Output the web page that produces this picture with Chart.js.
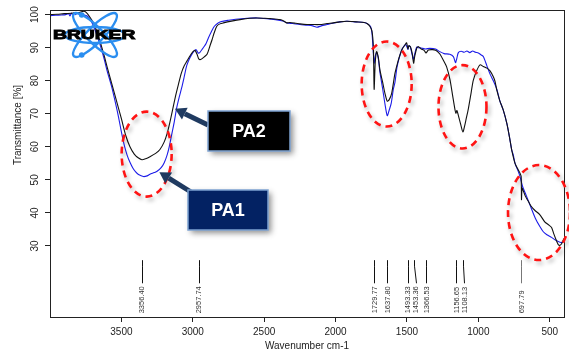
<!DOCTYPE html>
<html>
<head>
<meta charset="utf-8">
<title>FTIR PA1 / PA2</title>
<script src="https://cdn.jsdelivr.net/npm/chart.js@4.4.0/dist/chart.umd.min.js"></script>
<style>
  html, body { margin: 0; padding: 0; background: #fff; }
  canvas { display: block; }
</style>
</head>
<body>
<canvas id="ftirChart" width="569" height="354"></canvas>
<script>
// PA2 spectrum (black trace)
const pa2Wavenumber = [
  4000, 3950, 3900, 3850, 3800, 3775, 3760, 3745, 3720, 3700, 3680, 3650, 3620, 3600, 3570, 3540,
  3500, 3470, 3440, 3410, 3380, 3356, 3330, 3300, 3260, 3230, 3200, 3180, 3160, 3140, 3120, 3100,
  3080, 3060, 3040, 3020, 3000, 2985, 2970, 2958, 2945, 2920, 2900, 2880, 2865, 2850, 2832, 2810,
  2786, 2720, 2669, 2600, 2552, 2500, 2459, 2389, 2360, 2342, 2320, 2280, 2249, 2200, 2167, 2109,
  2060, 2016, 1970, 1922, 1880, 1852, 1800, 1780, 1760, 1745, 1735, 1729.77, 1722, 1712, 1700, 1689,
  1670, 1654, 1637.8, 1625, 1607, 1584, 1565, 1549, 1530, 1514, 1502, 1493.33, 1486, 1475, 1462, 1453.36,
  1445, 1430, 1419, 1400, 1380, 1366.53, 1350, 1320, 1300, 1280, 1268, 1245, 1222, 1198, 1180, 1163,
  1156.65, 1150, 1140, 1125, 1108.13, 1095, 1085, 1070, 1050, 1035, 1010, 988, 965, 940, 918, 895,
  883, 871, 850, 825, 800, 780, 766, 743, 720, 708, 700, 697.79, 694, 688, 670, 650,
  630, 605, 570, 535, 505, 487, 470, 452, 440, 428, 415, 400
];
const pa2Transmittance = [
  100.0, 100.1, 100.3, 100.4, 100.6, 100.9, 101.0, 100.6, 99.2, 97.8, 95.8, 92.0, 87.5, 84.2, 79.5, 74.8,
  68.5, 63.5, 60.0, 57.8, 56.6, 56.1, 56.4, 57.0, 58.0, 59.2, 61.5, 64.0, 67.5, 71.5, 75.5, 79.0,
  82.3, 84.5, 86.0, 87.5, 88.7, 89.2, 88.0, 86.6, 86.4, 87.2, 88.0, 90.5, 92.4, 94.5, 96.5, 97.2,
  97.5, 98.1, 98.5, 98.9, 99.0, 98.9, 98.8, 98.5, 98.0, 97.5, 97.6, 97.4, 97.2, 97.0, 97.0, 97.0,
  97.3, 97.5, 97.8, 98.0, 97.9, 97.8, 97.6, 97.3, 96.5, 95.0, 90.0, 77.4, 85.5, 88.8, 87.0, 83.2,
  79.5, 76.2, 73.8, 74.2, 76.2, 82.2, 85.5, 87.8, 89.8, 90.8, 91.5, 89.6, 90.6, 90.2, 88.0, 85.3,
  87.5, 90.0, 90.3, 89.6, 89.2, 88.4, 89.3, 89.4, 89.2, 88.6, 88.0, 86.2, 84.2, 80.2, 75.5, 71.1,
  70.1, 71.0, 69.5, 67.0, 64.5, 66.5, 68.5, 71.5, 76.5, 80.2, 83.2, 84.8, 84.3, 83.8, 83.0, 81.2,
  79.8, 77.2, 74.0, 71.1, 67.0, 62.5, 59.0, 55.0, 53.0, 52.0, 51.0, 44.0, 47.5, 47.0, 45.0, 43.5,
  42.0, 40.8, 39.5, 37.3, 36.3, 35.6, 33.5, 31.5, 30.4, 30.2, 30.8, 32.3
];

// PA1 spectrum (blue trace)
const pa1Wavenumber = [
  4000, 3960, 3920, 3890, 3870, 3860, 3850, 3840, 3830, 3820, 3810, 3790, 3760, 3740, 3720, 3700,
  3680, 3650, 3620, 3600, 3570, 3540, 3520, 3500, 3480, 3460, 3440, 3420, 3400, 3380, 3346, 3320,
  3300, 3270, 3250, 3220, 3200, 3180, 3165, 3150, 3130, 3113, 3095, 3078, 3060, 3043, 3025, 3008,
  2990, 2977, 2962, 2950, 2930, 2910, 2890, 2870, 2850, 2825, 2800, 2750, 2700, 2620, 2550, 2480,
  2420, 2370, 2340, 2300, 2250, 2200, 2160, 2130, 2100, 2060, 2020, 1970, 1920, 1860, 1800, 1775,
  1755, 1745, 1735, 1729.77, 1722, 1712, 1700, 1689, 1670, 1654, 1637.8, 1625, 1610, 1595, 1584, 1570,
  1555, 1535, 1520, 1508, 1493.33, 1486, 1476, 1464, 1456, 1447, 1432, 1420, 1400, 1370, 1340, 1300,
  1270, 1240, 1200, 1175, 1160, 1152, 1140, 1120, 1100, 1080, 1060, 1040, 1020, 1000, 980, 965,
  940, 918, 895, 871, 850, 825, 800, 780, 766, 755, 743, 720, 708, 690, 662, 630,
  600, 568, 545, 520, 487, 460, 428, 410, 400
];
const pa1Transmittance = [
  99.7, 99.8, 99.9, 100.0, 100.3, 99.6, 100.5, 99.8, 100.6, 100.0, 100.4, 100.1, 99.9, 99.6, 98.7, 97.0,
  94.8, 91.0, 86.5, 83.0, 78.5, 73.0, 69.0, 64.5, 60.5, 57.5, 55.3, 53.6, 52.4, 51.6, 51.0, 51.2,
  51.7, 52.2, 52.6, 53.8, 55.2, 57.5, 60.0, 63.2, 67.5, 71.7, 75.0, 77.8, 81.2, 84.5, 86.5, 87.9,
  89.0, 89.4, 88.4, 88.6, 89.8, 91.0, 93.0, 94.8, 96.4, 97.4, 97.9, 98.3, 98.6, 98.9, 99.0, 98.8,
  98.5, 98.1, 97.5, 97.3, 97.0, 96.8, 96.6, 96.2, 96.6, 97.0, 97.4, 97.8, 98.0, 97.8, 97.6, 97.2,
  96.4, 94.5, 88.0, 85.3, 87.5, 88.6, 86.5, 82.5, 77.5, 73.0, 69.4, 71.0, 73.2, 77.5, 79.5, 84.0,
  86.8, 89.5, 90.5, 91.0, 89.5, 90.6, 90.2, 88.0, 86.5, 87.8, 90.2, 90.0, 89.9, 89.6, 89.8, 89.6,
  88.8, 88.2, 88.0, 87.3, 85.5, 86.5, 88.5, 88.9, 88.6, 89.0, 88.5, 89.0, 88.6, 88.4, 87.8, 87.3,
  84.5, 82.0, 80.0, 77.5, 74.0, 71.0, 67.0, 62.5, 59.0, 57.5, 55.0, 52.5, 51.0, 48.0, 45.0, 41.5,
  38.3, 35.8, 34.3, 33.4, 32.6, 31.8, 31.1, 31.2, 31.8
];

// picked peak positions shown under the spectra
const peakWavenumbers = [3356.40, 2957.74, 1729.77, 1637.80, 1493.33, 1453.36, 1366.53, 1156.65, 1108.13, 697.79];

const xTickValues = [3500, 3000, 2500, 2000, 1500, 1000, 500];
const yTickValues = [30, 40, 50, 60, 70, 80, 90, 100];

const FONT = 'Arial, "Liberation Sans", sans-serif';
const toPoints = (xs, ys) => xs.map((x, i) => ({ x: x, y: ys[i] }));

// closed frame around the plot area
const framePlugin = {
  id: 'frame',
  afterDraw(chart) {
    const { ctx, chartArea: a } = chart;
    ctx.save();
    ctx.strokeStyle = '#222';
    ctx.lineWidth = 1;
    ctx.strokeRect(a.left + 0.5, a.top + 0.5, a.right - a.left, a.bottom - a.top);
    ctx.restore();
  }
};

// peak markers: short ticks with rotated wavenumber labels
const peakPlugin = {
  id: 'peaks',
  afterDatasetsDraw(chart) {
    const { ctx, scales: { x, y } } = chart;
    const lineTop = y.getPixelForValue(25.7);
    const lineBottom = y.getPixelForValue(18.7);
    const labelBase = y.getPixelForValue(9.6);
    ctx.save();
    ctx.font = '7.5px ' + FONT;
    ctx.fillStyle = '#333';
    ctx.textAlign = 'left';
    ctx.textBaseline = 'middle';
    let prevLabelX = -Infinity;
    peakWavenumbers.forEach(wn => {
      const px = x.getPixelForValue(wn);
      // nudge crowded labels apart
      const lx = Math.max(px, prevLabelX + 8);
      prevLabelX = lx;
      ctx.strokeStyle = wn < 800 ? '#777' : '#111';
      ctx.lineWidth = 1;
      ctx.beginPath();
      ctx.moveTo(Math.round(px) + 0.5, lineTop);
      ctx.lineTo(Math.round(px) + 0.5, lineTop + 6);
      ctx.lineTo(Math.round(lx) + 0.5, lineBottom);
      ctx.stroke();
      ctx.save();
      ctx.translate(lx + 0.5, labelBase);
      ctx.rotate(-Math.PI / 2);
      ctx.fillText(wn.toFixed(2), 0, 0);
      ctx.restore();
    });
    ctx.restore();
  }
};

// y axis title, rotated
const yTitlePlugin = {
  id: 'yTitle',
  afterDraw(chart) {
    const { ctx } = chart;
    ctx.save();
    ctx.translate(18, 125);
    ctx.rotate(-Math.PI / 2);
    ctx.font = '10px ' + FONT;
    ctx.fillStyle = '#222';
    ctx.textAlign = 'center';
    ctx.textBaseline = 'middle';
    ctx.fillText('Transmittance [%]', 0, 0);
    ctx.restore();
  }
};

function drawArrow(ctx, x0, y0, x1, y1) {
  const dx = x1 - x0, dy = y1 - y0;
  const len = Math.hypot(dx, dy);
  const ux = dx / len, uy = dy / len;
  const head = 11, half = 6.5;
  const bx = x1 - ux * head, by = y1 - uy * head;
  ctx.beginPath();
  ctx.moveTo(x0, y0);
  ctx.lineTo(bx, by);
  ctx.lineWidth = 5;
  ctx.stroke();
  ctx.beginPath();
  ctx.moveTo(x1, y1);
  ctx.lineTo(bx - uy * half, by + ux * half);
  ctx.lineTo(bx + uy * half, by - ux * half);
  ctx.closePath();
  ctx.fill();
}

function drawCallout(ctx, rx, ry, w, h, fill, text) {
  ctx.save();
  ctx.shadowColor = 'rgba(0,0,0,0.45)';
  ctx.shadowBlur = 6;
  ctx.shadowOffsetX = 3;
  ctx.shadowOffsetY = 3;
  ctx.fillStyle = fill;
  ctx.fillRect(rx, ry, w, h);
  ctx.restore();
  ctx.save();
  ctx.strokeStyle = '#7ea3d2';
  ctx.lineWidth = 1.5;
  ctx.strokeRect(rx, ry, w, h);
  ctx.fillStyle = '#fff';
  ctx.font = 'bold 18px ' + FONT;
  ctx.textAlign = 'center';
  ctx.textBaseline = 'middle';
  ctx.fillText(text, rx + w / 2, ry + h / 2 + 1);
  ctx.restore();
}

// highlight ellipses, PA callouts and the Bruker logo
const overlayPlugin = {
  id: 'overlay',
  afterDraw(chart) {
    const { ctx, scales: { x, y } } = chart;

    const rings = [
      { wn: 3323, t: 57.8, rx: 25, ry: 42.5 },
      { wn: 1642, t: 79.0, rx: 25, ry: 42.5 },
      { wn: 1111, t: 72.1, rx: 24, ry: 41.7 },
      { wn: 575, t: 40.1, rx: 31, ry: 47.5 }
    ];
    ctx.save();
    ctx.strokeStyle = '#ff1414';
    ctx.lineWidth = 2.6;
    ctx.setLineDash([7, 5]);
    ctx.shadowColor = 'rgba(0,0,0,0.3)';
    ctx.shadowBlur = 4;
    ctx.shadowOffsetX = 2;
    ctx.shadowOffsetY = 3;
    rings.forEach(r => {
      ctx.beginPath();
      ctx.ellipse(x.getPixelForValue(r.wn), y.getPixelForValue(r.t), r.rx, r.ry, 0, 0, Math.PI * 2);
      ctx.stroke();
    });
    ctx.restore();

    ctx.save();
    ctx.strokeStyle = '#1f3a60';
    ctx.fillStyle = '#1f3a60';
    ctx.lineCap = 'butt';
    drawArrow(ctx, 208, 125, x.getPixelForValue(3125), y.getPixelForValue(71.5));
    drawArrow(ctx, 191, 192, x.getPixelForValue(3234), y.getPixelForValue(52.3));
    ctx.restore();

    drawCallout(ctx, 208, 111, 82, 40, '#000000', 'PA2');
    drawCallout(ctx, 188, 190, 80, 40, '#032263', 'PA1');

    // logo
    const cx = 95, cy = 35;
    ctx.save();
    ctx.strokeStyle = '#2b8ef0';
    ctx.fillStyle = '#2b8ef0';
    ctx.lineWidth = 2.4;
    [0, Math.PI / 4, -Math.PI / 4].forEach(rot => {
      ctx.beginPath();
      ctx.ellipse(cx, cy, 30, 8, rot, 0, Math.PI * 2);
      ctx.stroke();
    });
    [[-13.3, -20], [-13.3, 20]].forEach(([dx, dy]) => {
      ctx.beginPath();
      ctx.arc(cx + dx, cy + dy, 2.8, 0, Math.PI * 2);
      ctx.fill();
    });
    ctx.restore();

    ctx.save();
    ctx.translate(53, 35);
    ctx.scale(1.48, 1);
    ctx.font = 'bold 13px ' + FONT;
    ctx.fillStyle = '#000';
    ctx.strokeStyle = '#000';
    ctx.lineWidth = 0.9;
    ctx.textAlign = 'left';
    ctx.textBaseline = 'middle';
    ctx.fillText('BRUKER', 0, 0);
    ctx.strokeText('BRUKER', 0, 0);
    ctx.restore();
  }
};

const axisFont = { family: FONT, size: 10 };

new Chart(document.getElementById('ftirChart').getContext('2d'), {
  type: 'line',
  data: {
    datasets: [
      {
        label: 'PA2',
        data: toPoints(pa2Wavenumber, pa2Transmittance),
        borderColor: '#111111',
        borderWidth: 1.1,
        pointRadius: 0,
        tension: 0.25
      },
      {
        label: 'PA1',
        data: toPoints(pa1Wavenumber, pa1Transmittance),
        borderColor: '#1c1ce8',
        borderWidth: 1.1,
        pointRadius: 0,
        tension: 0.25
      }
    ]
  },
  options: {
    responsive: false,
    animation: false,
    devicePixelRatio: 1,
    layout: { padding: { left: 0, right: 5, top: 10, bottom: 0 } },
    plugins: {
      legend: { display: false },
      tooltip: { enabled: false }
    },
    scales: {
      x: {
        type: 'linear',
        reverse: true,
        min: 400,
        max: 4000,
        afterBuildTicks: s => { s.ticks = xTickValues.map(v => ({ value: v })); },
        afterFit: s => { s.height = 37; },
        grid: { drawOnChartArea: false, drawTicks: true, tickLength: 5, color: '#222' },
        border: { display: true, color: '#222', width: 1 },
        ticks: {
          padding: 4, color: '#222', font: axisFont, maxRotation: 0, autoSkip: false,
          callback: v => String(v)
        },
        title: { display: true, text: 'Wavenumber cm-1', color: '#222', font: axisFont, padding: { top: 0, bottom: 2 } }
      },
      y: {
        type: 'linear',
        min: 8.5,
        max: 101.4,
        afterBuildTicks: s => { s.ticks = yTickValues.map(v => ({ value: v })); },
        afterFit: s => { s.width = 50; },
        grid: { drawOnChartArea: false, drawTicks: true, tickLength: 5, color: '#222' },
        border: { display: true, color: '#222', width: 1 },
        ticks: {
          padding: 1, color: '#222', font: axisFont, minRotation: 90, maxRotation: 90,
          crossAlign: 'center', autoSkip: false, callback: v => String(v)
        }
      }
    }
  },
  plugins: [framePlugin, peakPlugin, yTitlePlugin, overlayPlugin]
});
</script>
</body>
</html>
